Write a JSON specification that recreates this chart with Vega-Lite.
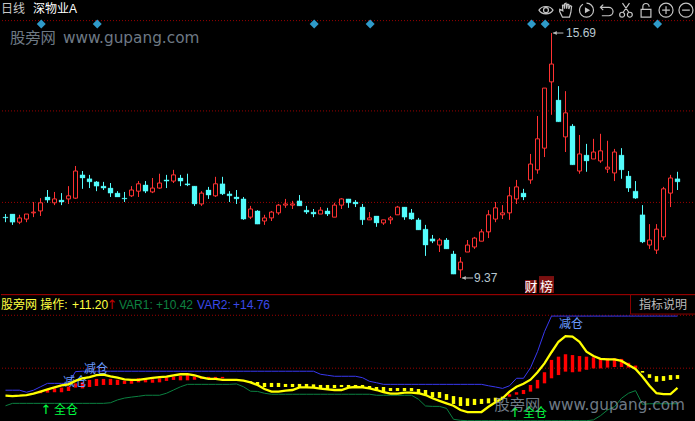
{"$schema":"https://vega.github.io/schema/vega-lite/v6.json","background":"#000000","padding":0,"spacing":0,"bounds":"flush","config":{"view":{"stroke":null},"concat":{"spacing":0},"axis":{"grid":false}},
"datasets":{
"k":[{"i":0,"h":11.02,"t":10.94,"b":10.92,"l":10.81,"d":"down"},{"i":1,"h":11.02,"t":11.02,"b":10.81,"l":10.74,"d":"down"},{"i":2,"h":11.00,"t":10.92,"b":10.81,"l":10.76,"d":"up"},{"i":3,"h":11.02,"t":11.02,"b":10.89,"l":10.81,"d":"up"},{"i":4,"h":11.33,"t":11.07,"b":11.05,"l":10.94,"d":"up"},{"i":5,"h":11.43,"t":11.31,"b":11.10,"l":10.97,"d":"up"},{"i":6,"h":11.64,"t":11.46,"b":11.38,"l":11.31,"d":"down"},{"i":7,"h":11.59,"t":11.41,"b":11.31,"l":11.25,"d":"up"},{"i":8,"h":11.56,"t":11.38,"b":11.33,"l":11.25,"d":"down"},{"i":9,"h":11.74,"t":11.49,"b":11.41,"l":11.28,"d":"up"},{"i":10,"h":12.26,"t":12.13,"b":11.43,"l":11.41,"d":"up"},{"i":11,"h":12.13,"t":12.03,"b":11.95,"l":11.67,"d":"down"},{"i":12,"h":12.03,"t":11.93,"b":11.85,"l":11.69,"d":"down"},{"i":13,"h":11.87,"t":11.85,"b":11.74,"l":11.61,"d":"down"},{"i":14,"h":11.85,"t":11.74,"b":11.69,"l":11.64,"d":"down"},{"i":15,"h":11.82,"t":11.69,"b":11.56,"l":11.46,"d":"down"},{"i":16,"h":11.61,"t":11.56,"b":11.46,"l":11.46,"d":"down"},{"i":17,"h":11.59,"t":11.43,"b":11.41,"l":11.33,"d":"down"},{"i":18,"h":11.74,"t":11.64,"b":11.49,"l":11.46,"d":"up"},{"i":19,"h":11.87,"t":11.80,"b":11.61,"l":11.46,"d":"up"},{"i":20,"h":11.87,"t":11.77,"b":11.61,"l":11.56,"d":"down"},{"i":21,"h":11.95,"t":11.69,"b":11.59,"l":11.56,"d":"up"},{"i":22,"h":12.06,"t":11.82,"b":11.69,"l":11.67,"d":"up"},{"i":23,"h":12.03,"t":11.90,"b":11.87,"l":11.69,"d":"down"},{"i":24,"h":12.16,"t":12.03,"b":11.87,"l":11.82,"d":"up"},{"i":25,"h":12.03,"t":11.95,"b":11.87,"l":11.74,"d":"down"},{"i":26,"h":12.06,"t":11.80,"b":11.77,"l":11.74,"d":"down"},{"i":27,"h":11.74,"t":11.74,"b":11.28,"l":11.23,"d":"down"},{"i":28,"h":11.61,"t":11.56,"b":11.28,"l":11.23,"d":"up"},{"i":29,"h":11.72,"t":11.64,"b":11.51,"l":11.41,"d":"down"},{"i":30,"h":11.98,"t":11.80,"b":11.49,"l":11.46,"d":"up"},{"i":31,"h":11.98,"t":11.80,"b":11.54,"l":11.51,"d":"down"},{"i":32,"h":11.61,"t":11.54,"b":11.49,"l":11.33,"d":"down"},{"i":33,"h":11.64,"t":11.46,"b":11.41,"l":11.28,"d":"down"},{"i":34,"h":11.46,"t":11.41,"b":10.89,"l":10.87,"d":"down"},{"i":35,"h":11.23,"t":11.15,"b":10.94,"l":10.89,"d":"up"},{"i":36,"h":11.12,"t":11.10,"b":10.76,"l":10.76,"d":"down"},{"i":37,"h":11.00,"t":10.92,"b":10.84,"l":10.74,"d":"up"},{"i":38,"h":11.10,"t":11.07,"b":10.92,"l":10.84,"d":"up"},{"i":39,"h":11.28,"t":11.25,"b":11.05,"l":11.00,"d":"up"},{"i":40,"h":11.41,"t":11.28,"b":11.25,"l":11.18,"d":"up"},{"i":41,"h":11.36,"t":11.28,"b":11.25,"l":11.15,"d":"up"},{"i":42,"h":11.51,"t":11.36,"b":11.23,"l":11.23,"d":"down"},{"i":43,"h":11.23,"t":11.12,"b":11.07,"l":11.02,"d":"down"},{"i":44,"h":11.15,"t":11.07,"b":11.02,"l":10.94,"d":"down"},{"i":45,"h":11.20,"t":11.12,"b":11.02,"l":11.02,"d":"up"},{"i":46,"h":11.18,"t":11.10,"b":11.02,"l":10.97,"d":"down"},{"i":47,"h":11.31,"t":11.25,"b":10.94,"l":10.94,"d":"up"},{"i":48,"h":11.43,"t":11.41,"b":11.25,"l":11.15,"d":"up"},{"i":49,"h":11.41,"t":11.41,"b":11.31,"l":11.18,"d":"down"},{"i":50,"h":11.38,"t":11.33,"b":11.28,"l":11.20,"d":"down"},{"i":51,"h":11.28,"t":11.20,"b":10.87,"l":10.74,"d":"down"},{"i":52,"h":11.07,"t":10.92,"b":10.87,"l":10.87,"d":"up"},{"i":53,"h":10.97,"t":10.97,"b":10.79,"l":10.69,"d":"down"},{"i":54,"h":10.87,"t":10.87,"b":10.79,"l":10.74,"d":"up"},{"i":55,"h":10.97,"t":10.92,"b":10.87,"l":10.76,"d":"up"},{"i":56,"h":11.23,"t":11.20,"b":11.00,"l":11.00,"d":"up"},{"i":57,"h":11.20,"t":11.20,"b":10.94,"l":10.87,"d":"down"},{"i":58,"h":11.15,"t":11.05,"b":10.89,"l":10.87,"d":"down"},{"i":59,"h":10.92,"t":10.87,"b":10.61,"l":10.61,"d":"down"},{"i":60,"h":10.74,"t":10.63,"b":10.22,"l":9.94,"d":"down"},{"i":61,"h":10.48,"t":10.38,"b":10.32,"l":10.27,"d":"down"},{"i":62,"h":10.40,"t":10.35,"b":10.22,"l":10.04,"d":"up"},{"i":63,"h":10.40,"t":10.35,"b":10.12,"l":10.12,"d":"down"},{"i":64,"h":10.07,"t":9.99,"b":9.47,"l":9.47,"d":"down"},{"i":65,"h":9.91,"t":9.78,"b":9.58,"l":9.37,"d":"up"},{"i":66,"h":10.35,"t":10.22,"b":10.04,"l":10.04,"d":"up"},{"i":67,"h":10.43,"t":10.40,"b":10.17,"l":10.12,"d":"up"},{"i":68,"h":10.63,"t":10.56,"b":10.32,"l":10.32,"d":"up"},{"i":69,"h":11.12,"t":11.00,"b":10.56,"l":10.40,"d":"up"},{"i":70,"h":11.33,"t":11.18,"b":10.89,"l":10.81,"d":"up"},{"i":71,"h":11.25,"t":11.05,"b":11.00,"l":10.89,"d":"up"},{"i":72,"h":11.72,"t":11.49,"b":11.05,"l":10.87,"d":"up"},{"i":73,"h":11.90,"t":11.72,"b":11.41,"l":11.28,"d":"up"},{"i":74,"h":11.67,"t":11.56,"b":11.46,"l":11.38,"d":"down"},{"i":75,"h":12.57,"t":12.31,"b":11.90,"l":11.80,"d":"up"},{"i":76,"h":13.55,"t":12.96,"b":12.16,"l":12.06,"d":"up"},{"i":77,"h":14.27,"t":14.27,"b":12.72,"l":12.49,"d":"up"},{"i":78,"h":15.69,"t":14.89,"b":14.43,"l":13.58,"d":"up"},{"i":79,"h":14.32,"t":13.96,"b":13.40,"l":13.40,"d":"down"},{"i":80,"h":14.19,"t":13.63,"b":13.01,"l":12.62,"d":"up"},{"i":81,"h":13.34,"t":13.29,"b":12.29,"l":12.29,"d":"down"},{"i":82,"h":13.06,"t":12.57,"b":12.13,"l":12.06,"d":"up"},{"i":83,"h":12.83,"t":12.54,"b":12.39,"l":12.11,"d":"down"},{"i":84,"h":12.96,"t":12.62,"b":12.44,"l":12.44,"d":"up"},{"i":85,"h":13.09,"t":12.65,"b":12.39,"l":12.34,"d":"up"},{"i":86,"h":12.91,"t":12.23,"b":12.18,"l":12.08,"d":"up"},{"i":87,"h":12.70,"t":12.62,"b":12.08,"l":11.87,"d":"up"},{"i":88,"h":12.72,"t":12.54,"b":12.16,"l":11.93,"d":"down"},{"i":89,"h":12.13,"t":12.00,"b":11.69,"l":11.59,"d":"down"},{"i":90,"h":11.87,"t":11.61,"b":11.43,"l":11.41,"d":"down"},{"i":91,"h":11.25,"t":11.00,"b":10.30,"l":10.27,"d":"down"},{"i":92,"h":10.76,"t":10.35,"b":10.22,"l":10.12,"d":"up"},{"i":93,"h":10.76,"t":10.63,"b":10.09,"l":9.99,"d":"up"},{"i":94,"h":11.72,"t":11.67,"b":10.43,"l":10.35,"d":"up"},{"i":95,"h":12.03,"t":11.95,"b":11.56,"l":11.20,"d":"up"},{"i":96,"h":12.11,"t":11.93,"b":11.85,"l":11.64,"d":"down"}],
"m":[{"i":0,"op":10.82,"v1":10.32,"v2":11.09},{"i":1,"op":10.80,"v1":10.44,"v2":11.09},{"i":2,"op":10.82,"v1":10.44,"v2":11.09},{"i":3,"op":10.85,"v1":10.44,"v2":10.99},{"i":4,"op":10.92,"v1":10.44,"v2":11.09},{"i":5,"op":11.02,"v1":10.44,"v2":11.26},{"i":6,"op":11.13,"v1":10.44,"v2":11.43},{"i":7,"op":11.23,"v1":10.44,"v2":11.43},{"i":8,"op":11.33,"v1":10.44,"v2":11.43},{"i":9,"op":11.38,"v1":10.44,"v2":11.43},{"i":10,"op":11.55,"v1":10.44,"v2":12.01},{"i":11,"op":11.68,"v1":10.44,"v2":12.03},{"i":12,"op":11.74,"v1":10.44,"v2":12.03},{"i":13,"op":11.84,"v1":10.44,"v2":12.03},{"i":14,"op":11.86,"v1":10.44,"v2":12.03},{"i":15,"op":11.78,"v1":10.47,"v2":12.03},{"i":16,"op":11.71,"v1":10.61,"v2":12.03},{"i":17,"op":11.63,"v1":10.70,"v2":12.03},{"i":18,"op":11.60,"v1":10.75,"v2":12.03},{"i":19,"op":11.60,"v1":10.79,"v2":12.03},{"i":20,"op":11.65,"v1":10.84,"v2":12.03},{"i":21,"op":11.70,"v1":10.84,"v2":12.03},{"i":22,"op":11.74,"v1":10.84,"v2":12.03},{"i":23,"op":11.76,"v1":10.94,"v2":12.03},{"i":24,"op":11.83,"v1":11.10,"v2":12.03},{"i":25,"op":11.88,"v1":11.26,"v2":12.03},{"i":26,"op":11.89,"v1":11.38,"v2":12.03},{"i":27,"op":11.83,"v1":11.38,"v2":12.03},{"i":28,"op":11.73,"v1":11.38,"v2":12.03},{"i":29,"op":11.65,"v1":11.38,"v2":12.03},{"i":30,"op":11.65,"v1":11.38,"v2":12.03},{"i":31,"op":11.60,"v1":11.38,"v2":12.03},{"i":32,"op":11.60,"v1":11.38,"v2":12.03},{"i":33,"op":11.60,"v1":11.40,"v2":12.03},{"i":34,"op":11.56,"v1":11.26,"v2":12.03},{"i":35,"op":11.48,"v1":11.04,"v2":12.03},{"i":36,"op":11.35,"v1":11.03,"v2":12.03},{"i":37,"op":11.15,"v1":10.94,"v2":12.03},{"i":38,"op":11.02,"v1":10.89,"v2":12.03},{"i":39,"op":11.02,"v1":10.89,"v2":12.03},{"i":40,"op":11.07,"v1":10.89,"v2":12.03},{"i":41,"op":11.10,"v1":10.89,"v2":12.03},{"i":42,"op":11.23,"v1":10.89,"v2":12.03},{"i":43,"op":11.23,"v1":10.89,"v2":12.03},{"i":44,"op":11.22,"v1":10.89,"v2":12.03},{"i":45,"op":11.17,"v1":10.89,"v2":11.88},{"i":46,"op":11.13,"v1":10.89,"v2":11.83},{"i":47,"op":11.10,"v1":10.89,"v2":11.78},{"i":48,"op":11.10,"v1":10.89,"v2":11.78},{"i":49,"op":11.22,"v1":10.89,"v2":11.78},{"i":50,"op":11.25,"v1":10.89,"v2":11.78},{"i":51,"op":11.23,"v1":10.89,"v2":11.71},{"i":52,"op":11.18,"v1":10.89,"v2":11.53},{"i":53,"op":11.10,"v1":10.84,"v2":11.46},{"i":54,"op":11.00,"v1":10.84,"v2":11.38},{"i":55,"op":10.92,"v1":10.84,"v2":11.38},{"i":56,"op":10.92,"v1":10.84,"v2":11.38},{"i":57,"op":10.97,"v1":10.84,"v2":11.38},{"i":58,"op":10.97,"v1":10.84,"v2":11.38},{"i":59,"op":10.94,"v1":10.64,"v2":11.38},{"i":60,"op":10.85,"v1":10.31,"v2":11.38},{"i":61,"op":10.69,"v1":10.29,"v2":11.38},{"i":62,"op":10.56,"v1":10.29,"v2":11.38},{"i":63,"op":10.44,"v1":10.19,"v2":11.38},{"i":64,"op":10.32,"v1":9.65,"v2":11.38},{"i":65,"op":10.11,"v1":9.60,"v2":11.38},{"i":66,"op":10.01,"v1":9.58,"v2":11.38},{"i":67,"op":10.01,"v1":9.58,"v2":11.38},{"i":68,"op":10.01,"v1":9.58,"v2":11.38},{"i":69,"op":10.27,"v1":9.58,"v2":11.31},{"i":70,"op":10.49,"v1":9.58,"v2":11.25},{"i":71,"op":10.69,"v1":9.58,"v2":11.18},{"i":72,"op":11.02,"v1":9.58,"v2":11.31},{"i":73,"op":11.26,"v1":9.58,"v2":11.68},{"i":74,"op":11.41,"v1":9.58,"v2":11.68},{"i":75,"op":11.61,"v1":9.58,"v2":12.20},{"i":76,"op":11.98,"v1":9.58,"v2":13.00},{"i":77,"op":12.42,"v1":9.58,"v2":13.99},{"i":78,"op":12.97,"v1":9.58,"v2":14.76},{"i":79,"op":13.49,"v1":9.58,"v2":14.76},{"i":80,"op":13.77,"v1":9.58,"v2":14.76},{"i":81,"op":13.74,"v1":9.58,"v2":14.76},{"i":82,"op":13.49,"v1":9.58,"v2":14.76},{"i":83,"op":13.00,"v1":9.58,"v2":14.76},{"i":84,"op":12.78,"v1":9.62,"v2":14.76},{"i":85,"op":12.64,"v1":9.83,"v2":14.76},{"i":86,"op":12.62,"v1":10.11,"v2":14.76},{"i":87,"op":12.62,"v1":10.27,"v2":14.76},{"i":88,"op":12.54,"v1":10.69,"v2":14.76},{"i":89,"op":12.34,"v1":10.94,"v2":14.76},{"i":90,"op":12.14,"v1":11.07,"v2":14.76},{"i":91,"op":11.76,"v1":10.39,"v2":14.76},{"i":92,"op":11.31,"v1":10.42,"v2":14.76},{"i":93,"op":10.94,"v1":10.42,"v2":14.76},{"i":94,"op":10.90,"v1":10.42,"v2":14.76},{"i":95,"op":10.90,"v1":10.42,"v2":14.76},{"i":96,"op":11.20,"v1":10.42,"v2":14.76}],
"b":[{"i":5,"a":11.07,"z":10.94,"s":"red"},{"i":6,"a":11.13,"z":10.97,"s":"red"},{"i":7,"a":11.18,"z":10.99,"s":"red"},{"i":8,"a":11.22,"z":10.99,"s":"red"},{"i":9,"a":11.27,"z":11.05,"s":"red"},{"i":10,"a":11.43,"z":11.22,"s":"red"},{"i":11,"a":11.48,"z":11.18,"s":"red"},{"i":12,"a":11.60,"z":11.25,"s":"red"},{"i":13,"a":11.65,"z":11.30,"s":"red"},{"i":14,"a":11.65,"z":11.35,"s":"red"},{"i":15,"a":11.65,"z":11.35,"s":"red"},{"i":16,"a":11.61,"z":11.35,"s":"red"},{"i":17,"a":11.56,"z":11.40,"s":"red"},{"i":18,"a":11.60,"z":11.41,"s":"red"},{"i":19,"a":11.68,"z":11.48,"s":"red"},{"i":20,"a":11.68,"z":11.48,"s":"red"},{"i":21,"a":11.63,"z":11.46,"s":"red"},{"i":22,"a":11.68,"z":11.48,"s":"red"},{"i":23,"a":11.73,"z":11.55,"s":"red"},{"i":24,"a":11.76,"z":11.60,"s":"red"},{"i":25,"a":11.79,"z":11.58,"s":"red"},{"i":26,"a":11.84,"z":11.58,"s":"red"},{"i":27,"a":11.76,"z":11.61,"s":"red"},{"i":28,"a":11.76,"z":11.65,"s":"red"},{"i":29,"a":11.75,"z":11.68,"s":"red"},{"i":30,"a":11.75,"z":11.68,"s":"red"},{"i":31,"a":11.75,"z":11.68,"s":"red"},{"i":35,"a":11.53,"z":11.46,"s":"yel"},{"i":36,"a":11.50,"z":11.33,"s":"yel"},{"i":37,"a":11.45,"z":11.25,"s":"yel"},{"i":38,"a":11.45,"z":11.25,"s":"yel"},{"i":39,"a":11.45,"z":11.25,"s":"yel"},{"i":40,"a":11.40,"z":11.25,"s":"yel"},{"i":41,"a":11.40,"z":11.25,"s":"yel"},{"i":42,"a":11.40,"z":11.20,"s":"yel"},{"i":43,"a":11.40,"z":11.22,"s":"yel"},{"i":44,"a":11.38,"z":11.20,"s":"yel"},{"i":45,"a":11.35,"z":11.17,"s":"yel"},{"i":46,"a":11.35,"z":11.15,"s":"yel"},{"i":47,"a":11.35,"z":11.20,"s":"yel"},{"i":48,"a":11.35,"z":11.25,"s":"yel"},{"i":49,"a":11.35,"z":11.23,"s":"yel"},{"i":50,"a":11.35,"z":11.27,"s":"yel"},{"i":51,"a":11.35,"z":11.22,"s":"yel"},{"i":52,"a":11.30,"z":11.15,"s":"yel"},{"i":53,"a":11.25,"z":11.07,"s":"yel"},{"i":54,"a":11.25,"z":10.99,"s":"yel"},{"i":55,"a":11.20,"z":11.05,"s":"yel"},{"i":56,"a":11.20,"z":11.05,"s":"yel"},{"i":57,"a":11.20,"z":11.05,"s":"yel"},{"i":58,"a":11.20,"z":11.05,"s":"yel"},{"i":59,"a":11.15,"z":10.94,"s":"yel"},{"i":60,"a":11.10,"z":10.85,"s":"yel"},{"i":61,"a":11.00,"z":10.74,"s":"yel"},{"i":62,"a":11.00,"z":10.71,"s":"yel"},{"i":63,"a":10.90,"z":10.61,"s":"yel"},{"i":64,"a":10.80,"z":10.41,"s":"yel"},{"i":65,"a":10.75,"z":10.31,"s":"yel"},{"i":66,"a":10.69,"z":10.31,"s":"yel"},{"i":67,"a":10.66,"z":10.36,"s":"yel"},{"i":68,"a":10.66,"z":10.41,"s":"yel"},{"i":69,"a":10.69,"z":10.44,"s":"yel"},{"i":70,"a":10.72,"z":10.52,"s":"yel"},{"i":71,"a":10.77,"z":10.66,"s":"yel"},{"i":72,"a":10.89,"z":10.77,"s":"red"},{"i":73,"a":10.99,"z":10.87,"s":"red"},{"i":74,"a":11.10,"z":10.90,"s":"red"},{"i":75,"a":11.35,"z":11.02,"s":"red"},{"i":76,"a":11.60,"z":11.18,"s":"red"},{"i":77,"a":11.98,"z":11.43,"s":"red"},{"i":78,"a":12.59,"z":11.68,"s":"red"},{"i":79,"a":12.75,"z":11.84,"s":"red"},{"i":80,"a":12.87,"z":12.01,"s":"red"},{"i":81,"a":12.83,"z":11.98,"s":"red"},{"i":82,"a":12.78,"z":12.01,"s":"red"},{"i":83,"a":12.75,"z":12.10,"s":"red"},{"i":84,"a":12.72,"z":12.17,"s":"red"},{"i":85,"a":12.67,"z":12.17,"s":"red"},{"i":86,"a":12.67,"z":12.21,"s":"red"},{"i":87,"a":12.67,"z":12.24,"s":"red"},{"i":88,"a":12.64,"z":12.24,"s":"red"},{"i":89,"a":12.45,"z":12.21,"s":"red"},{"i":90,"a":12.31,"z":12.17,"s":"red"},{"i":91,"a":12.04,"z":11.96,"s":"yel"},{"i":92,"a":11.88,"z":11.70,"s":"yel"},{"i":93,"a":11.79,"z":11.51,"s":"yel"},{"i":94,"a":11.79,"z":11.55,"s":"yel"},{"i":95,"a":11.84,"z":11.60,"s":"yel"},{"i":96,"a":11.84,"z":11.65,"s":"yel"}]
},
"vconcat":[
{"width":695,"height":294,"resolve":{"scale":{"color":"independent"}},
"layer":[
{"data":{"values":[{"p":16.01},{"p":13.68},{"p":11.32}]},"mark":{"type":"rule","color":"#9A0000","strokeWidth":1,"strokeDash":[1,2]},"encoding":{"y":{"field":"p","type":"quantitative","scale":{"domain":[8.957,16.542],"nice":false,"zero":false},"axis":null}}},
{"data":{"name":"k"},"mark":{"type":"rule","strokeWidth":1},"encoding":{"x":{"field":"i","type":"quantitative","scale":{"domain":[-0.642857,98.642857],"nice":false,"zero":false,"padding":0},"axis":null},"y":{"field":"h","type":"quantitative","axis":null},"y2":{"field":"l"},"color":{"field":"d","type":"nominal","legend":null,"scale":{"domain":["up","down"],"range":["#FF3232","#54FCFC"]}}}},
{"data":{"name":"k"},"transform":[{"filter":"datum.d==='up'"}],"mark":{"type":"bar","size":4,"fill":"#000000","stroke":"#FF3232","strokeWidth":1},"encoding":{"x":{"field":"i","type":"quantitative"},"y":{"field":"t","type":"quantitative"},"y2":{"field":"b"}}},
{"data":{"name":"k"},"transform":[{"filter":"datum.d==='down'"}],"mark":{"type":"bar","size":5,"fill":"#54FCFC","stroke":"#54FCFC","strokeWidth":0.3},"encoding":{"x":{"field":"i","type":"quantitative"},"y":{"field":"t","type":"quantitative"},"y2":{"field":"b"}}},
{"data":{"values":[{"i":5.11,"p":15.92},{"i":13.11,"p":15.92},{"i":44.1,"p":15.92},{"i":52.1,"p":15.92},{"i":75.15,"p":15.92},{"i":77.1,"p":15.92},{"i":93.15,"p":15.92}]},"mark":{"type":"point","shape":"diamond","filled":true,"size":81,"color":"#2F9AC9","opacity":1},"encoding":{"x":{"field":"i","type":"quantitative"},"y":{"field":"p","type":"quantitative"}}},
{"data":{"values":[{"i":78.2,"i2":79.7,"p":15.69},{"i":65.2,"i2":66.8,"p":9.37}]},"mark":{"type":"rule","color":"#BBBBBB","strokeWidth":1},"encoding":{"x":{"field":"i","type":"quantitative"},"x2":{"field":"i2"},"y":{"field":"p","type":"quantitative"}}},
{"data":{"values":[{"i":78.5,"p":15.69},{"i":65.5,"p":9.37}]},"mark":{"type":"point","shape":"triangle-left","filled":true,"size":16,"color":"#BBBBBB","opacity":1},"encoding":{"x":{"field":"i","type":"quantitative"},"y":{"field":"p","type":"quantitative"}}},
{"data":{"values":[{"a":74.21,"c":75.93,"t":9.318,"u":8.983},{"a":76.21,"c":78.36,"t":9.42,"u":8.983}]},"mark":{"type":"rect","color":"#7A1010"},"encoding":{"x":{"field":"a","type":"quantitative"},"x2":{"field":"c"},"y":{"field":"t","type":"quantitative"},"y2":{"field":"u"}}},
{"data":{"values":[{"icon":"eye","i":77.21,"p":16.28},{"icon":"hand","i":80.07,"p":16.28},{"icon":"play","i":83.0,"p":16.28},{"icon":"undo","i":85.79,"p":16.28},{"icon":"cut","i":88.64,"p":16.28},{"icon":"lock","i":91.5,"p":16.28},{"icon":"plus","i":94.36,"p":16.28},{"icon":"minus","i":97.21,"p":16.28}]},"mark":{"type":"point","filled":false,"size":196,"stroke":"#C4C4C4","strokeWidth":1.2,"opacity":1},"encoding":{"x":{"field":"i","type":"quantitative"},"y":{"field":"p","type":"quantitative"},"shape":{"field":"icon","type":"nominal","legend":null,"scale":{"domain":["eye","hand","play","undo","cut","lock","plus","minus"],"range":["M-1,0 C-0.6,-0.7 0.6,-0.7 1,0 C0.6,0.7 -0.6,0.7 -1,0 Z M0.35,0 A0.35,0.35 0 1 1 -0.35,0 A0.35,0.35 0 1 1 0.35,0 Z","M-0.5,1 L-0.9,0.2 L-0.9,-0.1 L-0.6,0 L-0.45,0.1 L-0.5,-0.7 L-0.3,-0.75 L-0.2,-0.2 L-0.2,-0.9 L0,-1 L0.1,-0.2 L0.2,-0.85 L0.4,-0.8 L0.4,-0.15 L0.6,-0.65 L0.8,-0.55 L0.7,0.3 L0.5,1 Z","M0,-1 A1,1 0 1 1 -1,0 M-1,0 A1,1 0 0 1 -0.5,-0.85","M-0.8,-0.4 L0.4,-0.4 A0.6,0.6 0 0 1 0.4,0.8 L-0.6,0.8 M-0.4,-0.8 L-0.8,-0.4 L-0.4,0","M-0.5,-1 L0.4,0.3 M0.5,-1 L-0.4,0.3 M-0.2,0.65 A0.35,0.35 0 1 1 -0.9,0.65 A0.35,0.35 0 1 1 -0.2,0.65 M0.9,0.65 A0.35,0.35 0 1 1 0.2,0.65 A0.35,0.35 0 1 1 0.9,0.65","M-0.7,-0.1 L0.7,-0.1 L0.7,1 L-0.7,1 Z M-0.45,-0.1 L-0.45,-0.5 A0.45,0.45 0 0 1 0.45,-0.5","M-1,0 A1,1 0 1 1 1,0 A1,1 0 1 1 -1,0 M-0.55,0 L0.55,0 M0,-0.55 L0,0.55","M-1,0 A1,1 0 1 1 1,0 A1,1 0 1 1 -1,0 M-0.55,0 L0.55,0"]}}}},
{"data":{"values":[{"i":83.15,"p":16.28}]},"mark":{"type":"point","shape":"triangle-right","filled":true,"size":36,"color":"#C4C4C4","opacity":1},"encoding":{"x":{"field":"i","type":"quantitative"},"y":{"field":"p","type":"quantitative"}}},
{"data":{"values":[{"i":-0.643,"p":16.31,"t":"日线","k":"dim"},{"i":3.93,"p":16.31,"t":"深物业A","k":"white"},{"i":80.07,"p":15.69,"t":"15.69","k":"num"},{"i":66.93,"p":9.37,"t":"9.37","k":"num"}]},"mark":{"type":"text","align":"left","baseline":"middle","fontSize":12,"font":"Liberation Sans, Noto Sans CJK SC"},"encoding":{"x":{"field":"i","type":"quantitative"},"y":{"field":"p","type":"quantitative"},"text":{"field":"t"},"color":{"field":"k","type":"nominal","legend":null,"scale":{"domain":["dim","white","num"],"range":["#C8C8C8","#FFFFFF","#B8C8D0"]}}}},
{"data":{"values":[{"i":75.07,"p":9.15,"t":"财"},{"i":77.29,"p":9.15,"t":"榜"}]},"mark":{"type":"text","align":"center","baseline":"middle","fontSize":13,"font":"Noto Sans CJK SC","color":"#FFFFFF"},"encoding":{"x":{"field":"i","type":"quantitative"},"y":{"field":"p","type":"quantitative"},"text":{"field":"t"}}},
{"data":{"values":[{"i":0.64,"p":15.57,"t":"股旁网"},{"i":8.21,"p":15.57,"t":"www.gupang.com"}]},"mark":{"type":"text","align":"left","baseline":"middle","fontSize":15.3,"font":"DejaVu Sans, Noto Sans CJK SC","color":"#8A98A6","opacity":0.8},"encoding":{"x":{"field":"i","type":"quantitative"},"y":{"field":"p","type":"quantitative"},"text":{"field":"t"}}}
]},
{"width":695,"height":127,"resolve":{"scale":{"color":"independent"}},
"layer":[
{"data":{"values":[{"p":14.80},{"p":12.18}]},"mark":{"type":"rule","color":"#9A0000","strokeWidth":1,"strokeDash":[1,2]},"encoding":{"y":{"field":"p","type":"quantitative","scale":{"domain":[9.566,15.853],"nice":false,"zero":false},"axis":null}}},
{"data":{"values":[{"p":15.82}]},"mark":{"type":"rule","color":"#B00000","strokeWidth":1},"encoding":{"y":{"field":"p","type":"quantitative"}}},
{"data":{"values":[{"a":89.21,"c":98.64,"p":14.86}]},"mark":{"type":"rule","color":"#8A0000","strokeWidth":1},"encoding":{"x":{"field":"a","type":"quantitative","scale":{"domain":[-0.642857,98.642857],"nice":false,"zero":false,"padding":0},"axis":null},"x2":{"field":"c"},"y":{"field":"p","type":"quantitative"}}},
{"data":{"values":[{"a":89.29,"p":15.85,"q":14.86}]},"mark":{"type":"rule","color":"#8A0000","strokeWidth":1},"encoding":{"x":{"field":"a","type":"quantitative"},"y":{"field":"p","type":"quantitative"},"y2":{"field":"q"}}},
{"data":{"name":"m"},"mark":{"type":"line","color":"#0B8040","strokeWidth":1},"encoding":{"x":{"field":"i","type":"quantitative"},"y":{"field":"v1","type":"quantitative"}}},
{"data":{"name":"m"},"mark":{"type":"line","color":"#3838F0","strokeWidth":1},"encoding":{"x":{"field":"i","type":"quantitative"},"y":{"field":"v2","type":"quantitative"}}},
{"data":{"name":"b"},"mark":{"type":"bar","size":3.4},"encoding":{"x":{"field":"i","type":"quantitative"},"y":{"field":"a","type":"quantitative"},"y2":{"field":"z"},"color":{"field":"s","type":"nominal","legend":null,"scale":{"domain":["red","yel"],"range":["#FF0000","#FFFF00"]}}}},
{"data":{"values":[{"i":-0.643,"p":15.31,"t":"股旁网 操作:","k":"op"},{"i":9.5,"p":15.31,"t":"+11.20","k":"op"},{"i":16.21,"p":15.31,"t":"VAR1:","k":"v1"},{"i":21.5,"p":15.31,"t":"+10.42","k":"v1"},{"i":27.36,"p":15.31,"t":"VAR2:","k":"v2"},{"i":32.5,"p":15.31,"t":"+14.76","k":"v2"},{"i":90.5,"p":15.31,"t":"指标说明","k":"btn"},{"i":11.21,"p":12.14,"t":"减仓","k":"sell"},{"i":8.21,"p":11.52,"t":"减仓","k":"sell"},{"i":79.07,"p":14.39,"t":"减仓","k":"sell"},{"i":6.93,"p":10.11,"t":"全仓","k":"buy"},{"i":73.93,"p":9.96,"t":"全仓","k":"buy"}]},"mark":{"type":"text","align":"left","baseline":"middle","fontSize":12,"font":"Liberation Sans, Noto Sans CJK SC"},"encoding":{"x":{"field":"i","type":"quantitative"},"y":{"field":"p","type":"quantitative"},"text":{"field":"t"},"color":{"field":"k","type":"nominal","legend":null,"scale":{"domain":["op","v1","v2","btn","sell","buy"],"range":["#FFFF40","#0E8040","#3A48E8","#BBBBBB","#6A9BFF","#00FF40"]}}}},
{"data":{"values":[{"i":15.21,"p":15.31,"t":"↑","k":"up"},{"i":5.79,"p":10.11,"t":"↑","k":"buy"},{"i":72.79,"p":9.96,"t":"↑","k":"buy"}]},"mark":{"type":"text","align":"center","baseline":"middle","fontSize":13,"font":"DejaVu Sans"},"encoding":{"x":{"field":"i","type":"quantitative"},"y":{"field":"p","type":"quantitative"},"text":{"field":"t"},"color":{"field":"k","type":"nominal","legend":null,"scale":{"domain":["up","buy"],"range":["#C00000","#00FF40"]}}}},
{"data":{"name":"m"},"mark":{"type":"line","color":"#FFFF00","strokeWidth":2.3},"encoding":{"x":{"field":"i","type":"quantitative"},"y":{"field":"op","type":"quantitative"}}},
{"data":{"values":[{"i":69.86,"p":10.36,"t":"股旁网"},{"i":77.57,"p":10.36,"t":"www.gupang.com"}]},"mark":{"type":"text","align":"left","baseline":"middle","fontSize":15.3,"font":"DejaVu Sans, Noto Sans CJK SC","color":"#8A98A6","opacity":0.8},"encoding":{"x":{"field":"i","type":"quantitative"},"y":{"field":"p","type":"quantitative"},"text":{"field":"t"}}}
]}
]}
